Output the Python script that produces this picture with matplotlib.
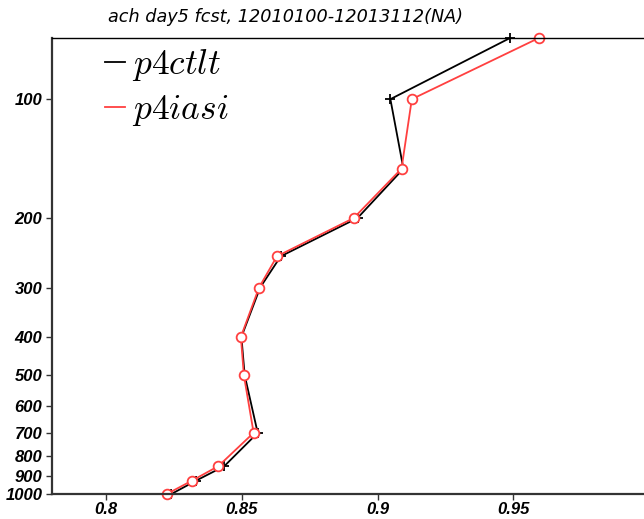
import numpy as np
import matplotlib
matplotlib.use('Agg')
from matplotlib import pyplot as plt

# pressure levels (hPa) and anomaly correlation for each experiment
levels = [1000, 925, 850, 700, 500, 400, 300, 250, 200, 150, 100, 70]
p4ctlt = [0.824, 0.8331, 0.8435, 0.8558, 0.8510, 0.8498, 0.8567, 0.8643, 0.8926, 0.9095, 0.9047, 0.9488]
p4iasi = [0.8223, 0.8316, 0.8413, 0.8543, 0.8507, 0.8496, 0.8563, 0.8629, 0.8912, 0.9088, 0.9126, 0.9594]

yticks = [100, 200, 300, 400, 500, 600, 700, 800, 900, 1000]
xticks = [0.8, 0.85, 0.9, 0.95]
title = 'ach day5 fcst, 12010100-12013112(NA)'

plt.rcParams['mathtext.fontset'] = 'cm'

fig = plt.figure(figsize=(6.44, 5.19), dpi=100)
ax = fig.add_axes([52/644, 25/519, 597/644, 456/519])

ax.plot(p4ctlt, levels, color='black', lw=1.3, marker='+', ms=7, mew=1.3,
        label=r'$p4ctlt$', clip_on=False)
ax.plot(p4iasi, levels, color='#ff4040', lw=1.3, marker='o', ms=7, mew=1.3,
        mfc='white', mec='#ff4040', label=r'$p4iasi$', clip_on=False)

ax.set_yscale('log')
ax.set_ylim(1000, 70)
ax.set_xlim(0.78, 1.0)
ax.set_yticks(yticks)
ax.set_yticklabels([str(t) for t in yticks])
ax.yaxis.set_minor_locator(matplotlib.ticker.NullLocator())
ax.set_xticks(xticks)
ax.set_xticklabels(['0.8', '0.85', '0.9', '0.95'])

for lab in ax.get_xticklabels() + ax.get_yticklabels():
    lab.set_fontfamily('Liberation Sans')
    lab.set_fontweight('bold')
    lab.set_fontstyle('italic')
    lab.set_fontsize(12)

ax.tick_params(direction='out', length=4, width=1, color='#333333')
ax.tick_params(axis='x', pad=2)
ax.tick_params(axis='y', pad=3)
ax.spines['left'].set_linewidth(1.6)
ax.spines['left'].set_color('#333333')
ax.spines['bottom'].set_linewidth(1.6)
ax.spines['bottom'].set_color('#333333')
ax.spines['top'].set_linewidth(1.0)
ax.spines['right'].set_visible(False)

leg = ax.legend(loc='upper left', bbox_to_anchor=(0.089, 0.980), frameon=False,
                fontsize=25.5, handlelength=0.56, handletextpad=0.2, labelspacing=0.25,
                borderpad=0, borderaxespad=0, markerscale=0)
for h in leg.legend_handles:
    h.set_marker('')

fig.text(285/644, 1 - 17/519, title, ha='center', va='center', fontsize=12.7,
         fontstyle='italic', family='DejaVu Sans')

fig.savefig('out.png', dpi=100)
